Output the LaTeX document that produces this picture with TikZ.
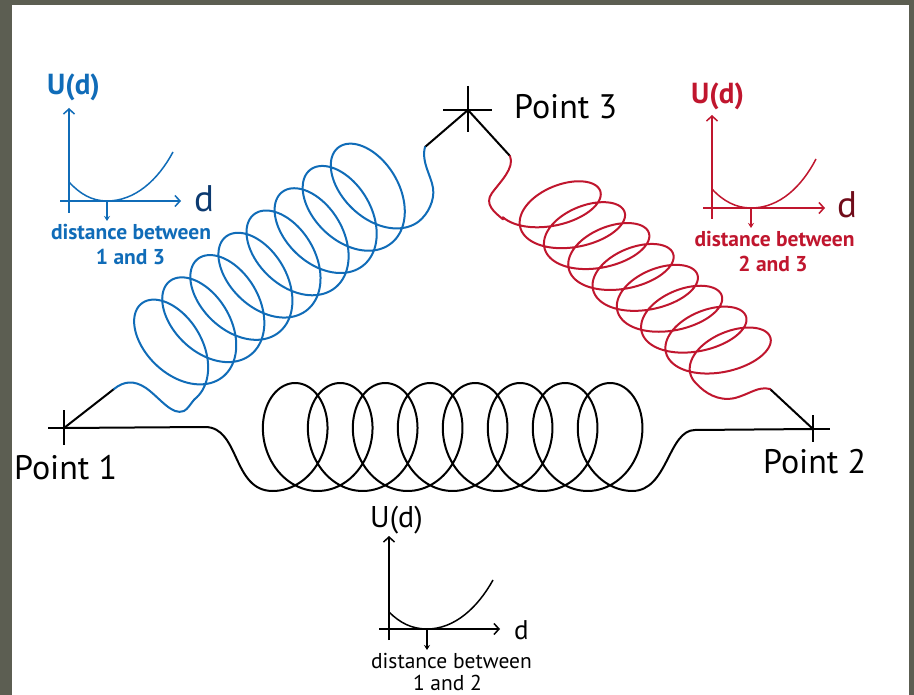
\documentclass[tikz,border=0pt]{standalone}
\usepackage{fontspec}
\setmainfont{PT Sans}
\usetikzlibrary{arrows.meta}
\definecolor{frameg}{RGB}{92,94,82}
\definecolor{sblue}{RGB}{16,108,184}
\definecolor{dblue}{RGB}{12,58,112}
\definecolor{sred}{RGB}{192,22,46}
\definecolor{dred}{RGB}{112,12,26}
\tikzset{
  spring/.style={line width=2pt, line join=round, line cap=round},
  link/.style={line width=2pt, black, line cap=round},
  crossmark/.style={line width=1.6pt, black},
  axisline/.style={line width=1.5pt, -{Straight Barb[length=5pt,width=11pt,line width=1.5pt]}},
  ucurve/.style={line width=1.5pt},
  minarrow/.style={line width=1.3pt, -{Stealth[length=5pt,width=6pt]}},
  ptlabel/.style={font=\fontsize{34}{40}\selectfont, anchor=base west, inner sep=0pt},
  ulabel/.style={font=\fontsize{29}{32}\selectfont\bfseries, anchor=base west, inner sep=0pt},
  ulabelk/.style={font=\fontsize{30}{32}\selectfont, anchor=base west, inner sep=0pt},
  dlabel/.style={font=\fontsize{37}{40}\selectfont, anchor=base west, inner sep=0pt},
  dlabelk/.style={font=\fontsize{27}{30}\selectfont, anchor=base west, inner sep=0pt},
  distlabel/.style={font=\fontsize{21.5}{24}\selectfont\bfseries, anchor=base, inner sep=0pt},
  distlabelk/.style={font=\fontsize{21.5}{24}\selectfont, anchor=base, inner sep=0pt},
}
\begin{document}
\begin{tikzpicture}[x=1pt,y=-1pt]
\useasboundingbox (0,0) rectangle (914,695);
\fill[frameg] (0,0) rectangle (914,695);
\fill[white] (12,5) rectangle (909,695);

% points
\coordinate (p1) at (64,428);
\coordinate (p2) at (813,429);
\coordinate (p3) at (468,110);
\coordinate (b1) at (114,389);
\coordinate (b2) at (425,147);
\coordinate (r1) at (510,156);
\coordinate (r2) at (770,389);
\coordinate (k1) at (205,427);
\coordinate (k2) at (695,430);

% crosses
\draw[crossmark] (48,428) -- (80,428) (64,410) -- (64,445);
\draw[crossmark] (797,429) -- (830,429) (813,415) -- (813,442);
\draw[crossmark] (443,110) -- (492,110) (468,86) -- (468,132);

% black links
\draw[link] (p1) -- (b1);
\draw[link] (b2) -- (p3) -- (r1);
\draw[link] (r2) -- (p2);

% black spring (points 1-2)
\draw[spring, black] (p1) -- (k1) .. controls (240,427) and (232,491) .. (272.7,491)
  -- plot[domain=0:50.2655, samples=700, variable=\t]
     ({272.7+7.16*\t+43*sin(\t r)},{437+54*cos(\t r)})
  .. controls (668,491) and (668,430) .. (k2) -- (p2);

% blue spring (points 1-3)
\draw[spring, sblue] (b1) .. controls (124,381) and (134,380) .. (146,388)
  .. controls (160,398) and (172,416) .. (184,411)
  .. controls (188,409) and (191,403) .. (194.5,399.3)
  -- plot[domain=0:50.2655, samples=700, variable=\t]
     ({161+(5.71*\t+36*sin(\t r))*0.783+54*cos(\t r)*0.621},
      {357-(5.71*\t+36*sin(\t r))*0.621+54*cos(\t r)*0.783})
  .. controls (428,214) and (435,200) .. (433,188)
  .. controls (431,175) and (421,162) .. (b2);

% red spring (points 3-2)
\draw[spring, sred] (r1) .. controls (515,168) and (500,182) .. (492,193)
  .. controls (484,204) and (494,212) .. (503,219.3)
  -- plot[domain=0:50.2655, samples=700, variable=\t]
     ({543.9+(5.1*\t+29*sin(\t r))*0.758-46*cos(\t r)*0.89},
      {196.6+(5.1*\t+29*sin(\t r))*0.652+46*cos(\t r)*0.45})
  .. controls (704,392) and (718,402) .. (735,398)
  .. controls (750,394) and (758,386) .. (r2);

% point labels
\node[ptlabel] (lp1) at (14,479) {Point 1};
\node[ptlabel] (lp2) at (763,473) {Point 2};
\node[ptlabel] (lp3) at (514,119) {Point 3};

% blue graph
\begin{scope}[sblue]
\draw[axisline] (69,213) -- (69,108);
\draw[axisline] (60,201) -- (181,201);
\draw[ucurve] (69,182) .. controls (80,194) and (92,201) .. (107,201)
  .. controls (135,201) and (158,180) .. (173,152);
\draw[minarrow] (107,201) -- (107,221);
\node[ulabel, text=sblue] (bu) at (47,95) {U(d)};
\node[dlabel, text=dblue] (bd) at (194,212) {d};
\node[distlabel, text=sblue] (bt1) at (131,240) {distance between};
\node[distlabel, text=sblue] (bt2) at (130.5,265) {1 and 3};
\end{scope}

% red graph
\begin{scope}[sred]
\draw[axisline] (712,219) -- (712,115);
\draw[axisline] (703,208) -- (825,208);
\draw[ucurve] (712,189) .. controls (723,201) and (736,208) .. (751,208)
  .. controls (780,208) and (802,186) .. (816,159);
\draw[minarrow] (751,208) -- (751,228);
\node[ulabel, text=sred] (ru) at (691,104) {U(d)};
\node[dlabel, text=dred] (rd) at (837,218) {d};
\node[distlabel, text=sred] (rt1) at (774.5,247) {distance between};
\node[distlabel, text=sred] (rt2) at (773,272) {2 and 3};
\end{scope}

% black graph
\draw[axisline] (389,640) -- (389,536);
\draw[axisline] (379,629) -- (500,629);
\draw[ucurve] (389,612) .. controls (400,623) and (412,629) .. (427,629)
  .. controls (455,629) and (478,607) .. (493,580);
\draw[minarrow] (427,629) -- (427,650);
\node[ulabelk] (ku) at (370,527) {U(d)};
\node[dlabelk] (kd) at (514,639) {d};
\node[distlabelk] (kt1) at (451.5,668) {distance between};
\node[distlabelk] (kt2) at (447.5,690) {1 and 2};
\end{tikzpicture}
\end{document}
